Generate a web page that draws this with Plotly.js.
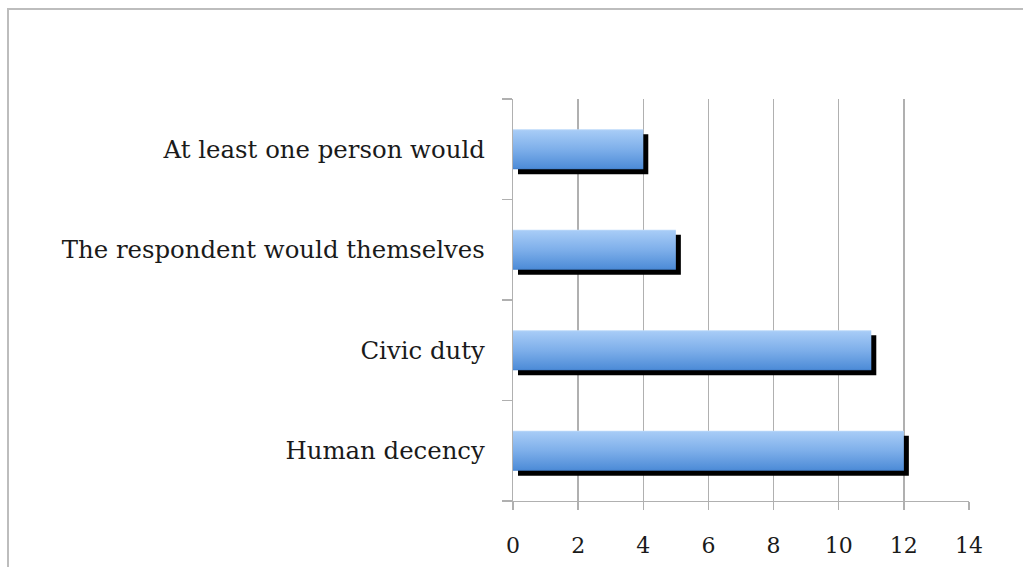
<!DOCTYPE html>
<html>
<head>
<meta charset="utf-8">
<script src="https://cdn.plot.ly/plotly-3.0.1.min.js"></script>
<style>
  html, body { margin: 0; padding: 0; background: #ffffff; }
  #chart { width: 1023px; height: 567px; }
</style>
</head>
<body>
<div id="chart"></div>
<script>
// Reasons given, listed bottom to top as they sit on the category axis
const categories = [
  "Human decency",
  "Civic duty",
  "The respondent would themselves",
  "At least one person would"
];
const counts = [12, 11, 5, 4];
const xTickValues = [0, 2, 4, 6, 8, 10, 12, 14];

// Plot-area geometry (pixels)
const margin = { l: 513, r: 54, t: 99, b: 66 };
const plotW = 1023 - margin.l - margin.r;
const plotH = 567 - margin.t - margin.b;
const xMax = 14;
const shadowPx = 5;                       // drop-shadow offset in pixels
const shadowDx = shadowPx * xMax / plotW; // same offset in x units
const shadowDy = shadowPx * categories.length / plotH; // in category units
const barWidth = 0.4;

const shadow = {
  type: "bar",
  orientation: "h",
  y: categories,
  x: counts,
  base: counts.map(() => shadowDx),
  width: barWidth,
  offset: -barWidth / 2 - shadowDy,
  marker: { color: "#000000", line: { width: 0 } },
  hoverinfo: "skip",
  showlegend: false
};

const bars = {
  type: "bar",
  orientation: "h",
  y: categories,
  x: counts,
  width: barWidth,
  offset: -barWidth / 2,
  marker: { color: "#7aaee9", line: { width: 0 } },
  showlegend: false
};

const axisGray = "#b0b0b0";
const fontFamily = "'DejaVu Serif', 'Liberation Serif', serif";

const layout = {
  width: 1023,
  height: 567,
  margin: margin,
  paper_bgcolor: "#ffffff",
  plot_bgcolor: "#ffffff",
  barmode: "overlay",
  font: { family: fontFamily, size: 22, color: "#1a1a1a" },
  xaxis: {
    range: [0, xMax],
    tickmode: "array",
    tickvals: xTickValues,
    ticktext: xTickValues.map(String),
    showgrid: true,
    gridcolor: axisGray,
    gridwidth: 1.3,
    zeroline: false,
    showline: true,
    linecolor: axisGray,
    linewidth: 1.3,
    ticks: "outside",
    ticklen: 8,
    tickwidth: 1.3,
    tickcolor: axisGray,
    ticklabelstandoff: 16,
    tickfont: { family: fontFamily, size: 22, color: "#1a1a1a" },
    fixedrange: true
  },
  yaxis: {
    type: "category",
    categoryorder: "array",
    categoryarray: categories,
    range: [-0.5, categories.length - 0.5],
    showgrid: false,
    zeroline: false,
    showline: true,
    linecolor: axisGray,
    linewidth: 1.3,
    ticks: "outside",
    tickson: "boundaries",
    ticklen: 10,
    tickwidth: 1.3,
    tickcolor: axisGray,
    ticklabelstandoff: 22,
    tickfont: { family: fontFamily, size: 24.4, color: "#1a1a1a" },
    fixedrange: true
  },
  shapes: [
    // chart frame along the top and left edges
    {
      type: "path",
      xref: "paper",
      yref: "paper",
      path: "M " + ((8 - margin.l) / plotW) + " " + ((margin.t - 700) / plotH) +
            " L " + ((8 - margin.l) / plotW) + " " + (1 + (margin.t - 9) / plotH) +
            " L " + (1 + 400 / plotW) + " " + (1 + (margin.t - 9) / plotH),
      line: { color: "#bdbdbd", width: 2 },
      layer: "below"
    }
  ]
};

Plotly.newPlot("chart", [shadow, bars], layout, { displayModeBar: false, staticPlot: true })
  .then(function (gd) {
    // vertical light-to-dark blue fill for the front bars
    const svg = gd.querySelector(".main-svg");
    const ns = "http://www.w3.org/2000/svg";
    let defs = svg.querySelector("defs");
    if (!defs) { defs = document.createElementNS(ns, "defs"); svg.insertBefore(defs, svg.firstChild); }
    const grad = document.createElementNS(ns, "linearGradient");
    grad.setAttribute("id", "barFill");
    grad.setAttribute("x1", "0"); grad.setAttribute("y1", "0");
    grad.setAttribute("x2", "0"); grad.setAttribute("y2", "1");
    [["0", "#c0dcfa"], ["0.04", "#a6cbf6"], ["0.5", "#7eafea"], ["0.96", "#4f8dd8"], ["1", "#3f7cc8"]]
      .forEach(function (s) {
        const stop = document.createElementNS(ns, "stop");
        stop.setAttribute("offset", s[0]);
        stop.setAttribute("stop-color", s[1]);
        grad.appendChild(stop);
      });
    defs.appendChild(grad);
    const traces = gd.querySelectorAll(".barlayer .trace");
    const front = traces[traces.length - 1];
    front.querySelectorAll("path").forEach(function (p) {
      p.style.fill = "url(#barFill)";
    });
  });
</script>
</body>
</html>
